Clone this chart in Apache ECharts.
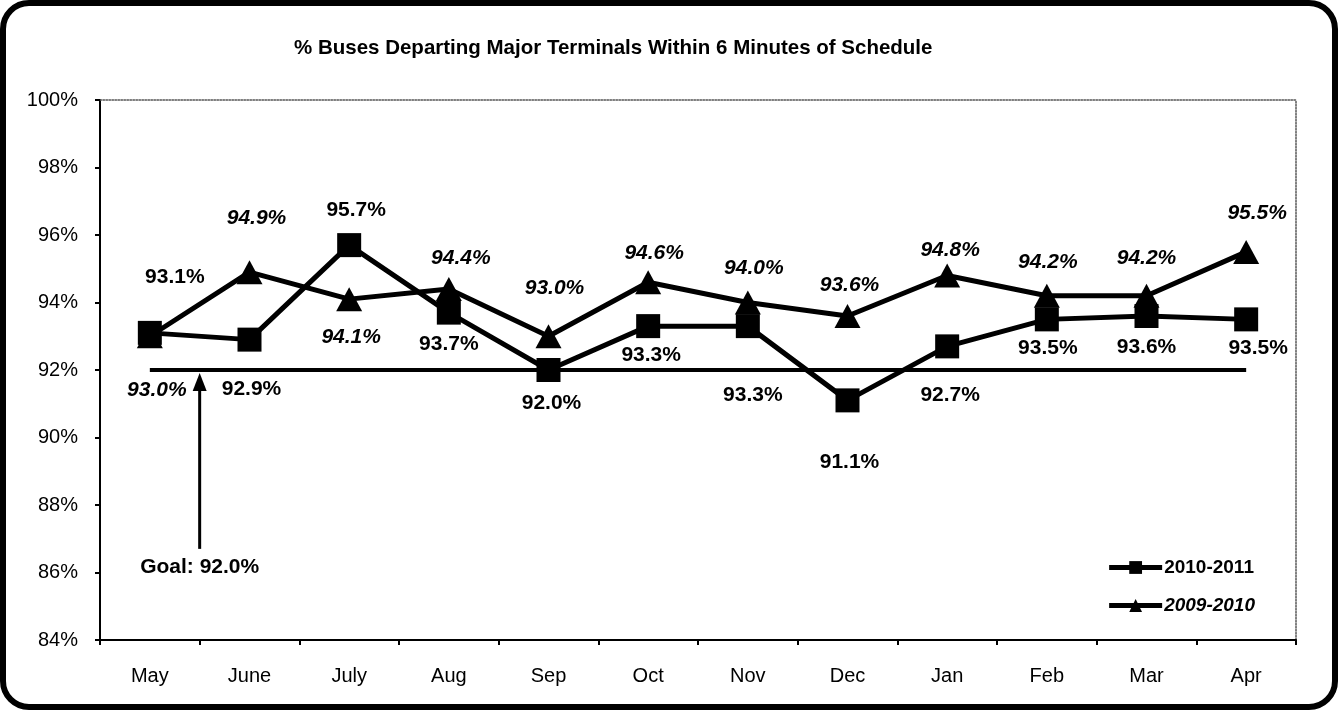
<!DOCTYPE html>
<html>
<head>
<meta charset="utf-8">
<script src="https://cdn.jsdelivr.net/npm/echarts@6/dist/echarts.min.js"></script>
<style>
  html, body { margin: 0; padding: 0; background: #fff; }
  #chart { width: 1338px; height: 710px; }
</style>
</head>
<body>
<div id="chart"></div>
<script>
// values
var months = ['May', 'June', 'July', 'Aug', 'Sep', 'Oct', 'Nov', 'Dec', 'Jan', 'Feb', 'Mar', 'Apr'];
var fy2011 = [93.1, 92.9, 95.7, 93.7, 92.0, 93.3, 93.3, 91.1, 92.7, 93.5, 93.6, 93.5];
var fy2010 = [93.0, 94.9, 94.1, 94.4, 93.0, 94.6, 94.0, 93.6, 94.8, 94.2, 94.2, 95.5];
var goal = 92.0;
var yTicks = [84, 86, 88, 90, 92, 94, 96, 98, 100];

// label placement (pixels from the marker), layout only
var lbl2011 = [[25, -56], [2, 50], [7, -35], [0, 32], [3, 33], [3, 29], [5, 69], [2, 62], [3, 49], [1, 29], [0, 31], [12, 29]];
var lbl2010 = [[7, 54], [7, -54], [2, 38], [12, -31], [6, -48], [6, -29], [6, -34], [2, -31], [3, -25], [1, -34], [0, -38], [11, -39]];

var FONT = '"Liberation Sans", Arial, sans-serif';

function withLabels(vals, offs) {
    return vals.map(function (v, i) {
        return { value: v, label: { offset: offs[i] } };
    });
}
function pct(p) { return p.value.toFixed(1) + '%'; }

var chart = echarts.init(document.getElementById('chart'));

var option = {
    animation: false,
    backgroundColor: '#fff',
    textStyle: { fontFamily: FONT, color: '#000' },
    title: {
        text: '% Buses Departing Major Terminals Within 6 Minutes of Schedule',
        left: 294,
        top: 38,
        padding: 0,
        textStyle: { fontFamily: FONT, fontSize: 20.5, fontWeight: 'bold', color: '#000' }
    },
    legend: {
        orient: 'vertical',
        right: 78,
        top: 553,
        itemWidth: 53,
        itemHeight: 16,
        itemGap: 19,
        lineStyle: { width: 5 },
        textStyle: { fontFamily: FONT, fontSize: 19, fontWeight: 'bold', color: '#000', padding: [0, 0, 0, -3] },
        data: [
            { name: '2010-2011' },
            { name: '2009-2010', textStyle: { fontStyle: 'italic' } }
        ]
    },
    grid: { left: 100, right: 42, top: 100, bottom: 70 },
    xAxis: [{
        type: 'category',
        data: months,
        boundaryGap: true,
        axisLine: { lineStyle: { color: '#000', width: 2 } },
        axisTick: { show: true, length: 5, inside: false, lineStyle: { color: '#000', width: 2 } },
        axisLabel: { margin: 26, fontSize: 20, color: '#000', fontFamily: FONT },
        splitLine: { show: false }
    }, {
        type: 'category',
        data: months,
        position: 'top',
        axisLine: { lineStyle: { color: '#555', width: 1.5, type: 'dotted' } },
        axisTick: { show: false },
        axisLabel: { show: false }
    }],
    yAxis: [{
        type: 'value',
        min: yTicks[0],
        max: yTicks[yTicks.length - 1],
        interval: yTicks[1] - yTicks[0],
        axisLine: { show: true, lineStyle: { color: '#000', width: 2 } },
        axisTick: { show: true, length: 5, lineStyle: { color: '#000', width: 2 } },
        axisLabel: { margin: 22, fontSize: 20, color: '#000', fontFamily: FONT, formatter: '{value}%' },
        splitLine: { show: false }
    }, {
        type: 'value',
        position: 'right',
        min: yTicks[0],
        max: yTicks[yTicks.length - 1],
        interval: yTicks[1] - yTicks[0],
        axisLine: { show: true, lineStyle: { color: '#555', width: 1.5, type: 'dotted' } },
        axisTick: { show: false },
        axisLabel: { show: false },
        splitLine: { show: false }
    }],
    series: [{
        name: 'Goal',
        type: 'line',
        data: months.map(function () { return goal; }),
        symbol: 'none',
        lineStyle: { color: '#000', width: 4 },
        z: 1,
        silent: true
    }, {
        name: '2009-2010',
        type: 'line',
        data: withLabels(fy2010, lbl2010),
        symbol: 'triangle',
        symbolSize: [26, 24],
        itemStyle: { color: '#000' },
        lineStyle: { color: '#000', width: 5 },
        z: 3,
        label: {
            show: true,
            position: 'inside',
            formatter: pct,
            fontFamily: FONT,
            fontSize: 21,
            fontWeight: 'bold',
            fontStyle: 'italic',
            color: '#000'
        }
    }, {
        name: '2010-2011',
        type: 'line',
        data: withLabels(fy2011, lbl2011),
        symbol: 'rect',
        symbolSize: 24,
        itemStyle: { color: '#000' },
        lineStyle: { color: '#000', width: 5 },
        z: 4,
        label: {
            show: true,
            position: 'inside',
            formatter: pct,
            fontFamily: FONT,
            fontSize: 21,
            fontWeight: 'bold',
            color: '#000'
        }
    }]
};

chart.setOption(option);

// goal arrow between May and June, from ~86.7% up to the goal line
var xA = chart.convertToPixel({ xAxisIndex: 0 }, months[0]);
var xB = chart.convertToPixel({ xAxisIndex: 0 }, months[1]);
var ax = (xA + xB) / 2;
var yTip = chart.convertToPixel({ yAxisIndex: 0 }, goal) + 3;
var yTail = chart.convertToPixel({ yAxisIndex: 0 }, 86.7);
var yText = chart.convertToPixel({ yAxisIndex: 0 }, 86.15);

chart.setOption({
    graphic: [{
        type: 'rect',
        shape: { x: 3, y: 3, width: 1332, height: 704, r: 26 },
        style: { fill: 'none', stroke: '#000', lineWidth: 6 },
        silent: true
    }, {
        type: 'line',
        shape: { x1: ax, y1: yTail, x2: ax, y2: yTip + 14 },
        style: { stroke: '#000', lineWidth: 3 }
    }, {
        type: 'polygon',
        shape: { points: [[ax, yTip], [ax - 7, yTip + 18], [ax + 7, yTip + 18]] },
        style: { fill: '#000' }
    }, {
        type: 'text',
        x: ax,
        y: yText,
        style: {
            text: 'Goal: 92.0%',
            font: 'bold 21px ' + FONT,
            fill: '#000',
            align: 'center',
            verticalAlign: 'middle'
        }
    }]
});
</script>
</body>
</html>
